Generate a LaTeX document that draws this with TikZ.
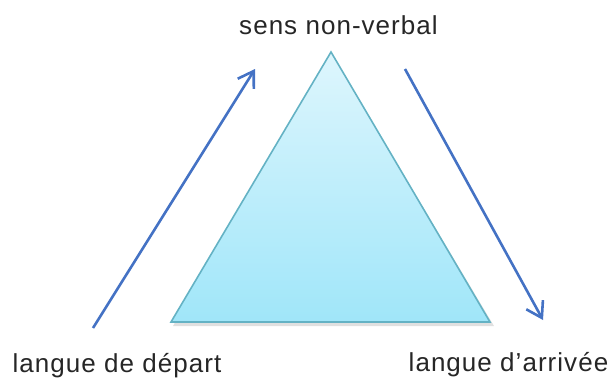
\documentclass[tikz,border=0pt]{standalone}
\usepackage{fontspec}
\setmainfont{Liberation Sans}[LetterSpace=4]
\usetikzlibrary{arrows.meta}
\definecolor{arrowblue}{RGB}{68,114,196}
\definecolor{tritop}{RGB}{222,246,253}
\definecolor{tribot}{RGB}{160,230,249}
\definecolor{triedge}{RGB}{100,178,196}
\tikzset{
  lbl/.style={anchor=base, inner sep=0pt, font=\fontsize{26}{30}\selectfont, text=black!85},
  flow/.style={draw=arrowblue, line width=2.6pt, -{Straight Barb[length=15pt,width=19pt,line width=2.6pt]}}
}
\begin{document}
\begin{tikzpicture}[x=1pt,y=-1pt]
\useasboundingbox (0,0) rectangle (611,378);
% shadow
\fill[black, opacity=0.12] (173,326) -- (333,57) -- (494,326) -- cycle;
% triangle
\coordinate (T) at (331,52);
\coordinate (BL) at (171,322);
\coordinate (BR) at (490,322);
\shade[top color=tritop, bottom color=tribot, draw=triedge, line width=1.6pt, line join=miter]
  (T) -- (BR) -- (BL) -- cycle;
% labels
\node[lbl] (top) at (338.5,34) {sens non-verbal};
\node[lbl] (dep) at (117,372) {langue de départ};
\node[lbl] (arr) at (508.5,371) {langue d’arrivée};
% arrows
\coordinate (a1s) at (93,328);
\coordinate (a1e) at (255,69);
\coordinate (a2s) at (405,69);
\coordinate (a2e) at (543,320);
\draw[flow] (a1s) -- (a1e);
\draw[flow] (a2s) -- (a2e);
\end{tikzpicture}
\end{document}
